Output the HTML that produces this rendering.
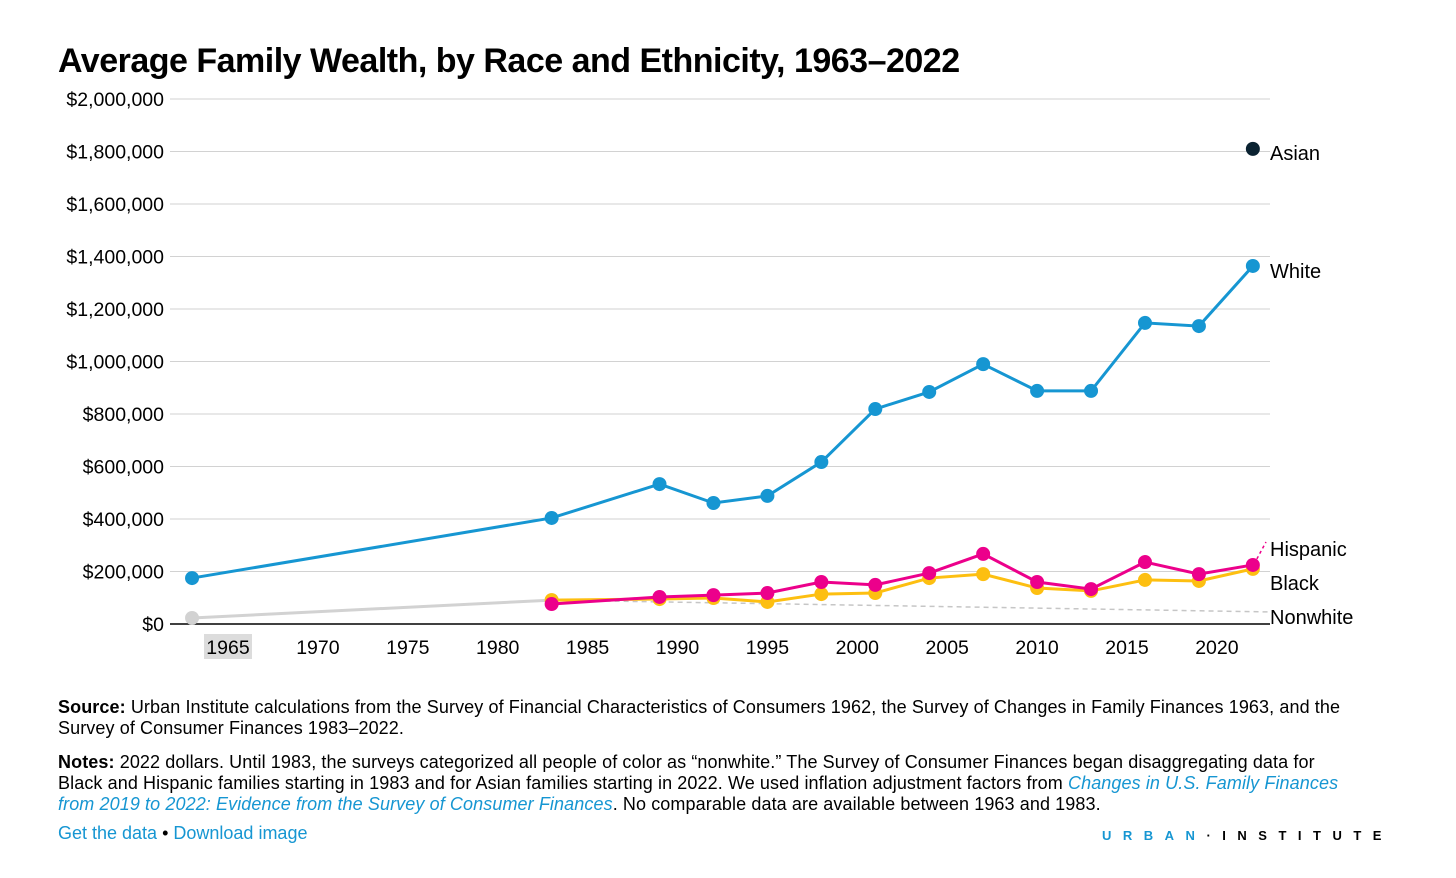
<!DOCTYPE html>
<html><head><meta charset="utf-8"><style>
body{margin:0;background:#fff;font-family:"Liberation Sans",sans-serif;width:1456px;height:878px;overflow:hidden;position:relative}
.t{position:absolute;color:#000}
a{color:#1696d2;text-decoration:none}
</style></head><body>
<div class="t" style="left:58px;top:42px;font-size:34px;font-weight:bold;letter-spacing:-0.5px">Average Family Wealth, by Race and Ethnicity, 1963–2022</div>
<svg id="chart" width="1456" height="680" style="position:absolute;left:0;top:0" font-family="Liberation Sans, sans-serif"></svg>
<div class="t" style="left:58px;top:697px;width:1320px;font-size:18px;letter-spacing:0.1px;line-height:21px"><b>Source:</b> Urban Institute calculations from the Survey of Financial Characteristics of Consumers 1962, the Survey of Changes in Family Finances 1963, and the Survey of Consumer Finances 1983–2022.</div>
<div class="t" style="left:58px;top:752px;width:1295px;font-size:18px;letter-spacing:0.1px;line-height:21px"><b>Notes:</b> 2022 dollars. Until 1983, the surveys categorized all people of color as “nonwhite.” The Survey of Consumer Finances began disaggregating data for Black and Hispanic families starting in 1983 and for Asian families starting in 2022. We used inflation adjustment factors from <a href="#"><i>Changes in U.S. Family Finances from 2019 to 2022: Evidence from the Survey of Consumer Finances</i></a>. No comparable data are available between 1963 and 1983.</div>
<div class="t" style="left:58px;top:823px;font-size:18px"><a href="#">Get the data</a> • <a href="#">Download image</a></div>
<div class="t" style="left:1102px;top:828px;font-size:13px;font-weight:bold;letter-spacing:11.5px"><span style="color:#1696d2">URBAN</span>·<span>INSTITUTE</span></div>
<script>
const yTicks=[0,200000,400000,600000,800000,1000000,1200000,1400000,1600000,1800000,2000000];
const xTicks=[1965,1970,1975,1980,1985,1990,1995,2000,2005,2010,2015,2020];
const years=[1963,1983,1989,1992,1995,1998,2001,2004,2007,2010,2013,2016,2019,2022];
const white=[175000,404000,533000,461000,488000,617000,819000,884000,990000,888000,888000,1147000,1135000,1364000];
const hispYears=[1983,1989,1992,1995,1998,2001,2004,2007,2010,2013,2016,2019,2022];
const hispanic=[76000,103000,110000,118000,160000,149000,194000,267000,160000,133000,236000,190000,225000];
const black=[91000,95000,99000,84000,114000,118000,175000,190000,137000,126000,168000,164000,210000];
const nonwhiteYears=[1963,1983];
const nonwhite=[23000,91000];
const nonwhiteDashed=[91000,46000];
const asianYear=2022, asian=1810000;
const svg=document.getElementById('chart');const NS='http://www.w3.org/2000/svg';
const X=y=>228+(y-1965)*17.98, Y=v=>624-v/2000000*525;
function el(t,a,p){const e=document.createElementNS(NS,t);for(const k in a)e.setAttribute(k,a[k]);(p||svg).appendChild(e);return e;}
yTicks.forEach(v=>{const l=el('line',{x1:170,x2:1270,y1:Y(v),y2:Y(v),stroke:v?'#d2d2d2':'#000','stroke-width':v?1:1.5});

const t=el('text',{x:164,y:Y(v)+7,'text-anchor':'end','font-size':19.5});t.textContent='$'+v.toLocaleString('en-US');
});
const hl=el('rect',{x:204,y:634,width:48,height:25,fill:'#dcdcdc'});
xTicks.forEach(v=>{const t=el('text',{x:X(v),y:654,'text-anchor':'middle','font-size':19.5});t.textContent=v;
});
function series(xs,vs,c,name,w){const p=el('polyline',{points:xs.map((x,i)=>X(x)+','+Y(vs[i])).join(' '),fill:'none',stroke:c,'stroke-width':w||3});

xs.forEach((x,i)=>{const d=el('circle',{cx:X(x),cy:Y(vs[i]),r:7,fill:c});});}
const dl=el('line',{x1:X(1983),y1:Y(nonwhiteDashed[0]),x2:1268,y2:Y(nonwhiteDashed[1]),stroke:'#c6c6c6','stroke-width':1.5,'stroke-dasharray':'5,4'});

series(nonwhiteYears,nonwhite,'#d2d2d2','nonwhite');
series(hispYears,black,'#fdbf11','black');
series(hispYears,hispanic,'#ec008b','hispanic');
series(years,white,'#1696d2','white');
const hd=el('line',{x1:X(2022)+4,y1:Y(hispanic[12])-6,x2:1266,y2:542,stroke:'#ec008b','stroke-width':1.5,'stroke-dasharray':'3,3'});

const a=el('circle',{cx:X(asianYear),cy:Y(asian),r:7,fill:'#0a2231'});
[['Asian',160],['White',278],['Hispanic',556],['Black',590],['Nonwhite',624]].forEach(([n,y])=>{const t=el('text',{x:1270,y:y,'font-size':20});t.textContent=n;
});
</script>
</body></html>
